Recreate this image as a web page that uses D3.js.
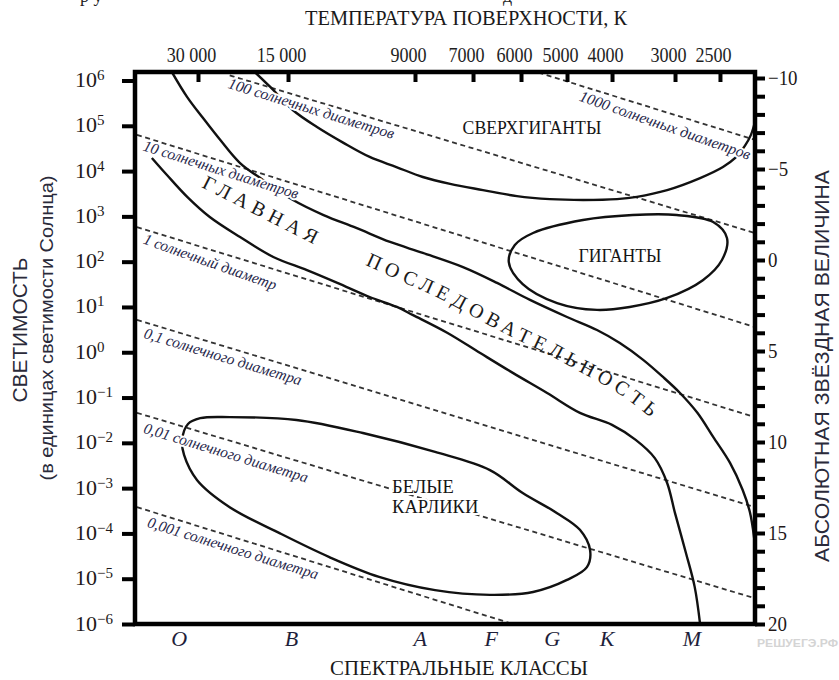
<!DOCTYPE html>
<html><head><meta charset="utf-8">
<script src="https://cdn.jsdelivr.net/npm/d3@7"></script>
<style>
body{margin:0;background:#fff;}
svg{display:block;}
</style></head><body>
<svg id="c" width="839" height="680"></svg>
<script>
// ---------------- DATA ----------------
const tempTicks = [30000, 15000, 9000, 7000, 6000, 5000, 4000, 3000, 2500];
const tempTickLabels = ["30 000", "15 000", "9000", "7000", "6000", "5000", "4000", "3000", "2500"];
// uneven (non-logarithmic) temperature axis: where each tick sits, as a fraction of the plot width
const tempTickFrac = [0.1016, 0.2468, 0.4516, 0.5452, 0.6226, 0.6968, 0.7694, 0.8710, 0.9435];

const lumExponents = [6, 5, 4, 3, 2, 1, 0, -1, -2, -3, -4, -5, -6];
const magTicks = [-10,-9,-8,-7,-6,-5,-4,-3,-2,-1,0,1,2,3,4,5,6,7,8,9,10,11,12,13,14,15,16,17,18,19,20];
const magLabelled = [-10, -5, 0, 5, 10, 15, 20];

const spectralClasses = ["O", "B", "A", "F", "G", "K", "M"];
const spectralTemps = [34700, 14800, 8800, 6600, 5300, 4100, 2800];

// [temperature K, luminosity in solar units]
const supergiants = [[19300,1.5e6],[17200,7.2e5],[14700,2.2e5],[13350,9.4e4],[12000,4.2e4],[10800,2.05e4],[9700,1.23e4],[8700,7.4e3],[7730,5.2e3],[6780,3.8e3],[6080,2.8e3],[5350,2.4e3],[4620,2.3e3],[3910,2.4e3],[3570,2.7e3],[3110,3.8e3],[2710,7.0e3],[2470,1.23e4],[2350,1.95e4],[2260,3.6e4],[2205,6.3e4],[2170,1.2e5]];
const mainSeqUpper = [[36600,1.5e6],[32600,4.3e5],[28900,1.5e5],[25300,4.9e4],[21700,1.5e4],[18200,6.4e3],[14700,2.3e3],[13000,1.07e3],[11400,555],[9950,272],[8700,156],[7310,76],[6480,34],[5790,14.3],[5000,6.0],[4310,3.1],[3860,1.6],[3470,0.68],[3170,0.285],[2940,0.126],[2740,0.046],[2570,0.0135],[2400,3.6e-3],[2280,9.1e-4],[2215,3.0e-4],[2175,7.5e-5]];
const mainSeqLower = [[42800,1.95e4],[38100,8.2e3],[32600,2.7e3],[27400,970],[21700,350],[16800,127],[13900,65],[12300,34],[10800,16.6],[9680,10],[9070,6.6],[7830,2.7],[6840,0.96],[6160,0.35],[5410,0.126],[4690,0.046],[4000,0.025],[3590,0.0116],[3290,4.6e-3],[3110,1.3e-3],[3000,2.8e-4],[2870,3.7e-5],[2770,6.6e-6],[2710,1.0e-6]];
const giants = [[6240,98],[6120,233],[5720,430],[4620,830],[3640,1070],[2980,1070],[2570,750],[2430,333],[2480,109],[2680,39],[3110,15.8],[3690,10],[4310,8.6],[5200,12.2],[5960,32]];
const whiteDwarfs = [[33900,0.0116],[32400,0.026],[29500,0.035],[23500,0.037],[14500,0.032],[11100,0.0165],[8250,6.3e-3],[6630,2.5e-3],[5960,7.8e-4],[5200,2.8e-4],[4690,1.2e-4],[4460,4.3e-5],[4530,1.8e-5],[5000,9.4e-6],[5720,5.1e-6],[6630,4.4e-6],[8250,5.6e-6],[10400,1.1e-5],[12700,3.0e-5],[15950,1.0e-4],[23500,3.8e-4],[30200,1.5e-3],[33400,5.4e-3]];

// lines of constant radius
const radiusNames = ["1000 солнечных диаметров","100 солнечных диаметров","10 солнечных диаметров","1 солнечный диаметр","0,1 солнечного диаметра","0,01 солнечного диаметра","0,001 солнечного диаметра"];
const radiusLines = [
  [[5600,1.5e6],[2170,4.9e4]],
  [[23500,1.3e6],[2170,430]],
  [[48000,6.3e4],[2170,3.6]],
  [[48000,580],[2170,0.037]],
  [[48000,5.2],[2170,3.8e-4]],
  [[48000,0.046],[2170,3.7e-6]],
  [[48000,3.8e-4],[6160,1.0e-6]]
];

// region names and where they sit [T, L]
const regionNames = ["СВЕРХГИГАНТЫ", "ГИГАНТЫ"];
const regionAt = [[5745, 8.95e4], [3857, 134]];
const dwarfLines = ["БЕЛЫЕ", "КАРЛИКИ"];
const dwarfAt = [9870, 1.06e-3];
const mainSeqWord1 = "ГЛАВНАЯ";
const mainSeqWord1At = [18190, 1315];
const mainSeqWord2 = "ПОСЛЕДОВАТЕЛЬНОСТЬ";
const mainSeqWord2Path = [[11200,140],[9300,48],[8080,22.5],[6780,7.0],[6100,2.9],[5370,1.3],[4690,0.55],[3980,0.22],[3520,0.088],[3070,0.024]];

// ---------------- LAYOUT / STYLE ----------------
const W = 839, H = 680;
const M = {top: 72, left: 135, right: 84, bottom: 56};
const iw = W - M.left - M.right, ih = H - M.top - M.bottom;
const serif = "'Liberation Serif','Times New Roman',serif";
const sans = "'Liberation Sans',Arial,sans-serif";
const labelT   = [0.603, 0.16, 0.14, 0.124, 0.144, 0.15, 0.264];
const labelOff = [13, 8.5, 8.5, 12, 10.5, 12.8, 10.9];
const labelLen = [180, 173, 162, 140, 164, 171, 178];
const labelAngAdj = [2, 0.5, 0.3, 2.5, 0, 0.3, 0];

const svg = d3.select("#c");
svg.append("rect").attr("width", W).attr("height", H).attr("fill", "#fff");
const g = svg.append("g").attr("transform", `translate(${M.left},${M.top})`);

const x = d3.scaleLinear().domain(tempTicks.map(Math.log10)).range(tempTickFrac.map(f => f * iw));
const X = t => x(Math.log10(t));
const y = d3.scaleLog().domain([1e-6, 1e6]).range([ih, 8.5]);
const ym = d3.scaleLinear().domain([-10, 20]).range([6, ih]);

function condense(sel, k) {
  sel.each(function () {
    const L = this.getComputedTextLength();
    this.setAttribute("textLength", L * k);
    this.setAttribute("lengthAdjust", "spacingAndGlyphs");
  });
}
function halo(sel, w) {
  sel.attr("stroke", "#fff").attr("stroke-width", w).attr("stroke-linejoin", "round").attr("paint-order", "stroke");
}

svg.append("defs").append("clipPath").attr("id", "plot")
  .append("rect").attr("width", iw).attr("height", ih);
const plot = g.append("g").attr("clip-path", "url(#plot)");

// dashed radius lines
const straight = d3.line().x(d => X(d[0])).y(d => y(d[1]));
plot.selectAll("path.rad").data(radiusLines).join("path")
  .attr("class", "rad").attr("d", straight)
  .attr("fill", "none").attr("stroke", "#333").attr("stroke-width", 1.8)
  .attr("stroke-dasharray", "5,3.6");

// solid curves
const smooth = d3.line().x(d => X(d[0])).y(d => y(d[1])).curve(d3.curveCatmullRom.alpha(0.5));
const closed = d3.line().x(d => X(d[0])).y(d => y(d[1])).curve(d3.curveCatmullRomClosed.alpha(0.5));
[supergiants, mainSeqUpper, mainSeqLower].forEach(c =>
  plot.append("path").attr("d", smooth(c)).attr("fill", "none").attr("stroke", "#111").attr("stroke-width", 2.4));
[giants, whiteDwarfs].forEach(c =>
  plot.append("path").attr("d", closed(c)).attr("fill", "none").attr("stroke", "#111").attr("stroke-width", 2.4));

// radius labels along their lines
radiusLines.forEach((ln, i) => {
  const x0 = X(ln[0][0]), y0 = y(ln[0][1]), x1 = X(ln[1][0]), y1 = y(ln[1][1]);
  const dx = x1 - x0, dy = y1 - y0, len = Math.hypot(dx, dy);
  const ux = dx / len, uy = dy / len;
  const t = labelT[i] * len, off = labelOff[i];
  const cx = x0 + ux * t - uy * off, cy = y0 + uy * t + ux * off;
  const ang = Math.atan2(dy, dx) * 180 / Math.PI + labelAngAdj[i];
  const tx = g.append("text")
    .attr("transform", `translate(${cx},${cy}) rotate(${ang})`)
    .attr("text-anchor", "middle").attr("dy", "0.32em")
    .attr("font-family", serif).attr("font-style", "italic").attr("font-size", 15.5)
    .attr("fill", "#26264a")
    .attr("textLength", labelLen[i]).attr("lengthAdjust", "spacingAndGlyphs")
    .text(radiusNames[i]);
  halo(tx, 4);
});

// region names
regionNames.forEach((nm, i) => {
  const t = g.append("text").attr("x", X(regionAt[i][0])).attr("y", y(regionAt[i][1]))
    .attr("dy", "0.33em").attr("text-anchor", "middle")
    .attr("font-family", serif).attr("font-size", 19).attr("fill", "#151515").text(nm);
  halo(t, 3);
  condense(t, 0.93);
});
const dw = g.append("text").attr("font-family", serif).attr("font-size", 18.5).attr("fill", "#151515");
dwarfLines.forEach((s, i) => dw.append("tspan").attr("x", X(dwarfAt[0])).attr("y", y(dwarfAt[1]))
  .attr("dy", (0.33 + i * 1.1) + "em").text(s));
halo(dw, 4);

// main sequence words
g.append("text")
  .attr("transform", `translate(${X(mainSeqWord1At[0])},${y(mainSeqWord1At[1])}) rotate(27)`)
  .attr("text-anchor", "middle").attr("dy", "0.33em")
  .attr("font-family", serif).attr("font-size", 20).attr("letter-spacing", 5.5)
  .attr("fill", "#1a1a1a").text(mainSeqWord1);
g.append("path").attr("id", "msPath").attr("d", smooth(mainSeqWord2Path)).attr("fill", "none");
g.append("text").attr("font-family", serif).attr("font-size", 20).attr("letter-spacing", 5.3)
  .attr("fill", "#1a1a1a").attr("dominant-baseline", "central")
  .append("textPath").attr("href", "#msPath").attr("startOffset", 8).text(mainSeqWord2);

// frame
g.append("rect").attr("width", iw).attr("height", ih).attr("fill", "none")
  .attr("stroke", "#000").attr("stroke-width", 4.5);

// top temperature axis
const axTop = g.append("g").call(
  d3.axisTop(x).tickValues(tempTicks.map(Math.log10)).tickSize(-10).tickPadding(10)
    .tickFormat((d, i) => tempTickLabels[i]));
axTop.select(".domain").remove();
axTop.selectAll(".tick line").attr("stroke", "#000").attr("stroke-width", 4);
axTop.selectAll(".tick text").attr("font-family", serif).attr("font-size", 21).attr("fill", "#1e1e1e").attr("dx", -7);
condense(axTop.selectAll(".tick text"), 0.86);

// left luminosity axis
const axL = g.append("g").call(
  d3.axisLeft(y).tickValues(lumExponents.map(e => Math.pow(10, e))).tickSize(13).tickFormat(""));
axL.select(".domain").remove();
axL.selectAll(".tick line").attr("stroke", "#000").attr("stroke-width", 4);
lumExponents.forEach(e => {
  const t = g.append("text").attr("x", -60).attr("y", y(Math.pow(10, e)) + 6.5)
    .attr("font-family", serif).attr("font-size", 22).attr("fill", "#221818");
  t.append("tspan").text("10");
  t.append("tspan").attr("dy", -7).attr("font-size", 15).text(e < 0 ? "−" + (-e) : String(e));
});

// right magnitude axis
const axR = g.append("g").attr("transform", `translate(${iw},0)`).call(
  d3.axisRight(ym).tickValues(magTicks).tickSize(10).tickPadding(3)
    .tickFormat(d => magLabelled.includes(d) ? (d < 0 ? "−" + (-d) : String(d)) : ""));
axR.select(".domain").remove();
axR.selectAll(".tick line").attr("stroke", "#000").attr("stroke-width", 4);
axR.selectAll(".tick text").attr("font-family", serif).attr("font-size", 21).attr("fill", "#221818");
condense(axR.selectAll(".tick text").filter(function () { return this.textContent !== ""; }), 0.9);

// spectral classes
g.selectAll("text.sp").data(spectralClasses).join("text").attr("class", "sp")
  .attr("x", (d, i) => X(spectralTemps[i])).attr("y", ih + 22)
  .attr("text-anchor", "middle").attr("font-family", serif).attr("font-style", "italic")
  .attr("font-size", 22).attr("fill", "#1e1e3a").text(d => d);

// titles
svg.append("text").attr("x", 466).attr("y", 25).attr("text-anchor", "middle")
  .attr("font-family", serif).attr("font-size", 21).attr("fill", "#1a1a1a")
  .attr("textLength", 322).attr("lengthAdjust", "spacingAndGlyphs")
  .text("ТЕМПЕРАТУРА ПОВЕРХНОСТИ, К");
svg.append("text").attr("x", 459).attr("y", 675).attr("text-anchor", "middle")
  .attr("font-family", serif).attr("font-size", 21).attr("fill", "#1a1a1a")
  .attr("textLength", 258).attr("lengthAdjust", "spacingAndGlyphs")
  .text("СПЕКТРАЛЬНЫЕ КЛАССЫ");
svg.append("text").attr("transform", "translate(27,330) rotate(-90)").attr("text-anchor", "middle")
  .attr("font-family", sans).attr("font-size", 20).attr("fill", "#2a2a3a")
  .attr("textLength", 145).attr("lengthAdjust", "spacingAndGlyphs").text("СВЕТИМОСТЬ");
svg.append("text").attr("transform", "translate(53,328) rotate(-90)").attr("text-anchor", "middle")
  .attr("font-family", sans).attr("font-size", 18).attr("fill", "#2a2a3a")
  .attr("textLength", 305).attr("lengthAdjust", "spacingAndGlyphs").text("(в единицах светимости Солнца)");
svg.append("text").attr("transform", "translate(829,366) rotate(-90)").attr("text-anchor", "middle")
  .attr("font-family", sans).attr("font-size", 20).attr("fill", "#2a2a3a")
  .attr("textLength", 392).attr("lengthAdjust", "spacingAndGlyphs")
  .text("АБСОЛЮТНАЯ ЗВЁЗДНАЯ ВЕЛИЧИНА");

// cropped line of page text at the very top and watermark
svg.append("text").attr("x", 80).attr("y", 2).attr("font-family", serif).attr("font-size", 18).attr("fill", "#222").text("р у");
svg.append("text").attr("x", 503).attr("y", 2).attr("font-family", serif).attr("font-size", 18).attr("fill", "#222").text("д");
svg.append("text").attr("x", 757).attr("y", 647).attr("font-family", sans).attr("font-weight", "bold")
  .attr("font-size", 11).attr("fill", "#d4d4d4").attr("textLength", 81).attr("lengthAdjust", "spacingAndGlyphs")
  .text("РЕШУЕГЭ.РФ");
</script>
</body></html>
